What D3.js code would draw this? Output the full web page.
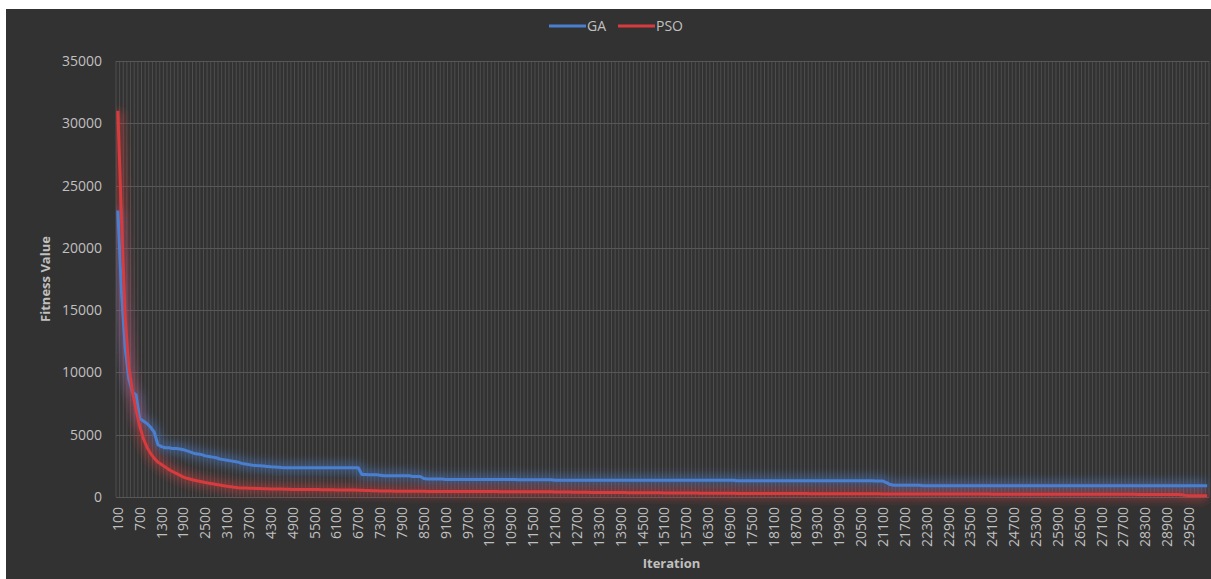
<!DOCTYPE html>
<html>
<head>
<meta charset="utf-8">
<script src="https://cdn.jsdelivr.net/npm/d3@7"></script>
<style>
  html, body { margin: 0; padding: 0; background: #fff; }
  svg { display: block; }
  .tick text { font-family: "Open Sans", sans-serif; fill: #c0c0c0; }
</style>
</head>
<body>
<svg id="chart" width="1211" height="579"></svg>
<script>
// Constants
const WIDTH = 1211;
const HEIGHT = 579;
const MARGIN = {top: 61, right: 2, bottom: 82, left: 116};

// Data: iteration categories 100..30000 in steps of 100
const ITERATIONS = d3.range(100, 30001, 100);
const Y_TICKS = [0, 5000, 10000, 15000, 20000, 25000, 30000, 35000];
const SERIES_NAMES = ['GA', 'PSO'];
const SERIES_COLORS = ['#4a7fcf', '#d63b3e'];

// Fitness values, one per iteration category.
const GA_VALUES = [
  23000, 16500, 12000, 9500, 8400, 8200, 6300, 6100, 5900, 5600,
  5200, 4200, 4050, 3950, 3950, 3900, 3900, 3850, 3800, 3700,
  3600, 3500, 3450, 3400, 3300, 3250, 3200, 3150, 3050, 3000,
  2950, 2900, 2850, 2800, 2700, 2650, 2600, 2550, 2520, 2500,
  2480, 2450, 2420, 2400, 2380, 2360, 2350, 2350, 2350, 2350,
  2350, 2350, 2350, 2350, 2350, 2350, 2350, 2350, 2350, 2350,
  2350, 2350, 2350, 2350, 2350, 2350, 2350, 1800, 1800, 1780,
  1780, 1780, 1750, 1700, 1700, 1700, 1700, 1700, 1700, 1700,
  1700, 1650, 1650, 1650, 1480, 1450, 1450, 1450, 1450, 1450,
  1400, 1400, 1400, 1400, 1400, 1400, 1400, 1400, 1400, 1400,
  1400, 1400, 1400, 1400, 1400, 1400, 1400, 1400, 1400, 1400,
  1380, 1380, 1380, 1380, 1380, 1380, 1380, 1380, 1380, 1380,
  1350, 1350, 1350, 1350, 1350, 1350, 1350, 1350, 1350, 1350,
  1350, 1350, 1350, 1350, 1350, 1350, 1350, 1350, 1350, 1350,
  1350, 1350, 1350, 1350, 1350, 1350, 1350, 1350, 1350, 1350,
  1350, 1350, 1350, 1350, 1350, 1350, 1350, 1350, 1350, 1350,
  1350, 1350, 1350, 1350, 1350, 1350, 1350, 1350, 1350, 1350,
  1300, 1300, 1300, 1300, 1300, 1300, 1300, 1300, 1300, 1300,
  1300, 1300, 1300, 1300, 1300, 1300, 1300, 1300, 1300, 1300,
  1300, 1300, 1300, 1300, 1300, 1300, 1300, 1300, 1300, 1300,
  1300, 1300, 1300, 1300, 1300, 1300, 1300, 1300, 1280, 1280,
  1280, 1150, 1000, 950, 950, 950, 950, 950, 950, 950,
  950, 900, 900, 900, 900, 900, 900, 900, 900, 900,
  900, 900, 900, 900, 900, 900, 900, 900, 900, 900,
  900, 900, 900, 900, 900, 900, 900, 900, 900, 900,
  900, 900, 900, 900, 900, 900, 900, 900, 900, 900,
  900, 900, 900, 900, 900, 900, 900, 900, 900, 900,
  900, 900, 900, 900, 900, 900, 900, 900, 900, 900,
  900, 900, 900, 900, 900, 900, 900, 900, 900, 900,
  900, 900, 900, 900, 900, 900, 900, 900, 900, 900
];

const PSO_VALUES = [
  31000, 22500, 14500, 10500, 8500, 7000, 5700, 4700, 4000, 3500,
  3100, 2800, 2600, 2400, 2200, 2050, 1900, 1750, 1600, 1500,
  1420, 1350, 1280, 1220, 1160, 1110, 1060, 1010, 960, 910,
  860, 820, 780, 750, 730, 720, 710, 700, 690, 680,
  670, 660, 650, 650, 640, 640, 630, 620, 610, 610,
  600, 600, 600, 600, 600, 600, 590, 590, 580, 580,
  560, 560, 560, 560, 560, 560, 550, 540, 530, 520,
  510, 500, 490, 480, 480, 480, 470, 470, 470, 470,
  460, 460, 460, 460, 460, 450, 450, 450, 450, 450,
  440, 440, 440, 440, 440, 440, 440, 440, 440, 440,
  440, 440, 440, 440, 440, 430, 430, 430, 430, 430,
  420, 420, 420, 420, 420, 420, 420, 420, 420, 420,
  400, 400, 400, 400, 400, 380, 380, 380, 380, 380,
  360, 360, 360, 360, 360, 360, 360, 360, 360, 360,
  340, 340, 340, 340, 340, 340, 340, 340, 340, 340,
  320, 320, 320, 320, 320, 320, 320, 320, 320, 320,
  300, 300, 300, 300, 300, 300, 300, 300, 300, 300,
  290, 290, 290, 290, 290, 290, 290, 290, 290, 290,
  280, 280, 280, 280, 280, 280, 280, 280, 280, 280,
  270, 270, 270, 270, 270, 270, 270, 270, 270, 270,
  260, 260, 260, 260, 260, 260, 260, 260, 260, 260,
  250, 250, 250, 250, 250, 250, 250, 250, 250, 250,
  240, 240, 240, 240, 240, 240, 240, 240, 240, 240,
  240, 240, 240, 240, 240, 240, 240, 240, 240, 240,
  230, 230, 230, 230, 230, 230, 230, 230, 230, 230,
  230, 230, 230, 230, 230, 230, 230, 230, 230, 230,
  220, 220, 220, 220, 220, 220, 220, 220, 220, 220,
  220, 220, 220, 220, 220, 220, 220, 220, 220, 220,
  210, 210, 210, 210, 210, 210, 210, 210, 210, 210,
  210, 210, 180, 130, 100, 100, 100, 100, 100, 100
];

const svg = d3.select('#chart');
const innerW = WIDTH - MARGIN.left - MARGIN.right;
const innerH = HEIGHT - MARGIN.top - MARGIN.bottom;

// Chart background (the picture has a thin white strip top and left).
svg.append('rect')
    .attr('x', 6).attr('y', 9)
    .attr('width', WIDTH - 6).attr('height', HEIGHT - 9)
    .attr('fill', '#323232');

// Soft glow used by Excel-style lines
const defs = svg.append('defs');
const glow = defs.append('filter')
    .attr('id', 'glow')
    .attr('filterUnits', 'userSpaceOnUse')
    .attr('x', 0).attr('y', 0).attr('width', WIDTH).attr('height', HEIGHT);
glow.append('feGaussianBlur').attr('stdDeviation', 5);

const g = svg.append('g')
    .attr('transform', 'translate(' + MARGIN.left + ',' + MARGIN.top + ')');

const x = d3.scaleBand()
    .domain(ITERATIONS)
    .range([0, innerW])
    .padding(0);

const y = d3.scaleLinear()
    .domain([0, 35000])
    .range([innerH, 0]);

// Vertical gridlines at every category boundary
g.append('g')
    .selectAll('line')
    .data(ITERATIONS.concat([null]))
    .join('line')
    .attr('x1', function(d, i) { return i * x.bandwidth(); })
    .attr('x2', function(d, i) { return i * x.bandwidth(); })
    .attr('y1', 0)
    .attr('y2', innerH)
    .attr('stroke', '#4e4e4e')
    .attr('stroke-width', 1);

// Horizontal gridlines
g.append('g')
    .selectAll('line')
    .data(Y_TICKS)
    .join('line')
    .attr('x1', 0)
    .attr('x2', innerW)
    .attr('y1', function(d) { return Math.round(y(d)) + 0.5; })
    .attr('y2', function(d) { return Math.round(y(d)) + 0.5; })
    .attr('stroke', '#575757')
    .attr('stroke-width', 1);

// Y axis
const yAxis = g.append('g')
    .call(d3.axisLeft(y).tickValues(Y_TICKS).tickSize(0).tickPadding(14)
        .tickFormat(d3.format('d')));
yAxis.select('.domain').remove();
yAxis.selectAll('text').attr('font-size', 14);

// X axis, label every 6th category
const xAxis = g.append('g')
    .attr('transform', 'translate(0,' + innerH + ')')
    .call(d3.axisBottom(x)
        .tickValues(ITERATIONS.filter(function(d, i) { return i % 6 == 0; }))
        .tickSize(0));
xAxis.select('.domain').remove();
xAxis.selectAll('text')
    .attr('font-size', 14)
    .attr('transform', 'rotate(-90)')
    .attr('text-anchor', 'end')
    .attr('x', -10)
    .attr('y', 0)
    .attr('dy', '0.36em');

// Lines
const line = d3.line()
    .x(function(d, i) { return x(ITERATIONS[i]) + x.bandwidth() / 2; })
    .y(function(d) { return y(d); });

const seriesValues = [GA_VALUES, PSO_VALUES];
seriesValues.forEach(function(vals, k) {
  g.append('path')
      .attr('d', line(vals))
      .attr('fill', 'none')
      .attr('stroke', SERIES_COLORS[k])
      .attr('stroke-width', 10)
      .attr('stroke-opacity', 0.5)
      .attr('stroke-linejoin', 'round')
      .attr('filter', 'url(#glow)');
});
seriesValues.forEach(function(vals, k) {
  g.append('path')
      .attr('d', line(vals))
      .attr('fill', 'none')
      .attr('stroke', SERIES_COLORS[k])
      .attr('stroke-width', 3)
      .attr('stroke-linejoin', 'round');
});

// Axis titles
svg.append('text')
    .attr('x', MARGIN.left + innerW / 2 + 9)
    .attr('y', 568)
    .attr('text-anchor', 'middle')
    .attr('font-family', 'Open Sans, sans-serif')
    .attr('font-weight', 'bold')
    .attr('font-size', 13)
    .attr('fill', '#c0c0c0')
    .text('Iteration');

svg.append('text')
    .attr('transform', 'translate(50,' + (MARGIN.top + innerH / 2) + ') rotate(-90)')
    .attr('text-anchor', 'middle')
    .attr('font-family', 'Open Sans, sans-serif')
    .attr('font-weight', 'bold')
    .attr('font-size', 13)
    .attr('fill', '#c0c0c0')
    .text('Fitness Value');

// Legend
const legendX = [549, 618];
SERIES_NAMES.forEach(function(name, k) {
  const item = svg.append('g')
      .attr('transform', 'translate(' + legendX[k] + ',26)');
  item.append('line')
      .attr('x1', 0).attr('x2', 37)
      .attr('stroke', SERIES_COLORS[k])
      .attr('stroke-width', 3);
  item.append('text')
      .attr('x', 38)
      .attr('dy', '0.35em')
      .attr('font-family', 'Open Sans, sans-serif')
      .attr('font-size', 14)
      .attr('fill', '#c0c0c0')
      .text(name);
});
</script>
</body>
</html>
